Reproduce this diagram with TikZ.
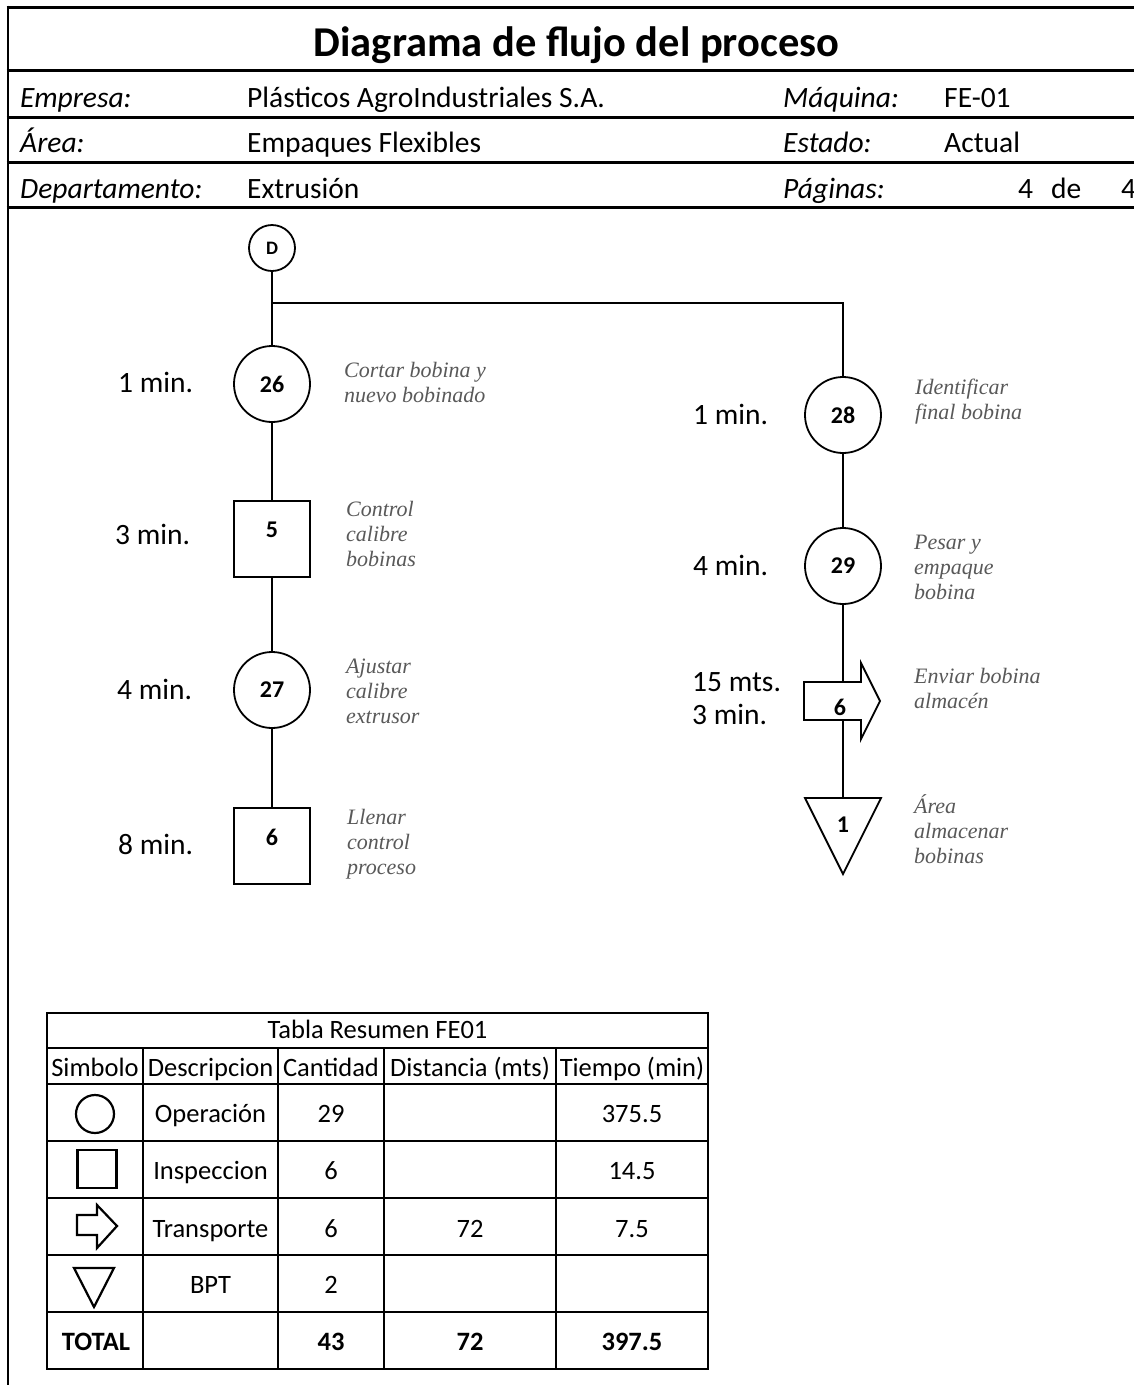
\documentclass[tikz,border=0pt]{standalone}
\usepackage{fontspec}
\setmainfont{Carlito}
\newfontfamily\descfont{Liberation Serif}
\usetikzlibrary{calc}
\definecolor{desc}{HTML}{595959}
\newcommand\mystrut{\rule{0pt}{20pt}}
\begin{document}
\begin{tikzpicture}[x=1pt,y=-1pt,
  hline/.style={line width=3pt},
  flow/.style={line width=1.8pt},
  shp/.style={draw, line width=1.8pt, inner sep=0pt},
  opc/.style={shp, circle, minimum size=76pt, font=\fontsize{24}{28}\selectfont\bfseries},
  insp/.style={shp, rectangle, minimum size=76pt},
  ghost/.style={inner sep=0pt, outer sep=0pt},
  num/.style={font=\fontsize{24}{28}\selectfont\bfseries, inner sep=0pt},
  lbl/.style={font=\fontsize{29.5}{35}\selectfont, anchor=base west, inner sep=0pt},
  dsc/.style={font=\descfont\itshape\fontsize{22}{25}\selectfont, text=desc, anchor=north west, inner sep=0pt, align=left},
  hit/.style={font=\fontsize{29.5}{35}\selectfont\itshape, anchor=base west, inner sep=0pt},
  hv/.style={font=\fontsize{29.5}{35}\selectfont, anchor=base west, inner sep=0pt},
  tb/.style={font=\fontsize{26.5}{30}\selectfont, inner sep=0pt, anchor=base},
  tbb/.style={font=\fontsize{26.5}{30}\selectfont\bfseries, inner sep=0pt, anchor=base},
  tline/.style={line width=2pt},
  tsym/.style={draw, line width=2.2pt, inner sep=0pt},
]
\useasboundingbox (0,0) rectangle (1134,1385);
\fill[white] (0,0) rectangle (1134,1385);

% ---------- header ----------
\draw[line width=2.5pt] (8,5.5) -- (8,1385);
\draw[hline] (6.5,7) -- (1134,7);
\draw[hline] (6.5,70) -- (1134,70);
\draw[hline] (6.5,117) -- (1134,117);
\draw[hline] (6.5,162) -- (1134,162);
\draw[hline] (6.5,207) -- (1134,207);

\node[font=\fontsize{42.5}{50}\selectfont\bfseries, anchor=base, inner sep=0pt] (title) at (576.5,56) {Diagrama de flujo del proceso};

\node[hit] (lemp) at (20,107) {Empresa:};
\node[hv]  (vemp) at (247,107) {Plásticos AgroIndustriales S.A.};
\node[hit] (lmaq) at (783,107) {Máquina:};
\node[hv]  (vmaq) at (944,107) {FE-01};

\node[hit] (lare) at (20,152) {Área:};
\node[hv]  (vare) at (247,152) {Empaques Flexibles};
\node[hit] (lest) at (783,152) {Estado:};
\node[hv]  (vest) at (944,152) {Actual};

\node[hit] (ldep) at (20,198) {Departamento:};
\node[hv]  (vdep) at (247,198) {Extrusión};
\node[hit] (lpag) at (783,198) {Páginas:};
\node[hv]  (vpag1) at (1018,198) {4};
\node[hv]  (vpag2) at (1051,198) {de};
\node[hv]  (vpag3) at (1121,198) {4};

% ---------- left column ----------
\node[shp, circle, minimum size=46pt] (d) at (272,248) {\fontsize{19}{22}\selectfont\bfseries D};
\node[opc] (c26) at (272,384) {26};
\node[insp] (s5) at (272,539) {};
\node[num] (n5) at (272,530) {5};
\node[opc] (c27) at (272,690) {27};
\node[insp] (s6) at (272,846) {};
\node[num] (n6) at (272,837) {6};

\coordinate (br) at (272,303);
\draw[flow] (d.south) -- (c26.north);
\draw[flow] (c26.south) -- (s5.north);
\draw[flow] (s5.south) -- (c27.north);
\draw[flow] (c27.south) -- (s6.north);

\node[lbl] (t26) at (118,392) {1 min.};
\node[lbl] (t5)  at (115,544) {3 min.};
\node[lbl] (t27) at (117,699) {4 min.};
\node[lbl] (t6l) at (118,854) {8 min.};

\node[dsc] (d26) at (344,357) {\mystrut Cortar bobina y\\nuevo bobinado};
\node[dsc] (d5)  at (346,496) {\mystrut Control\\calibre\\bobinas};
\node[dsc] (d27) at (346,653) {\mystrut Ajustar\\calibre\\extrusor};
\node[dsc] (d6)  at (347,804) {\mystrut Llenar\\control\\proceso};

% ---------- right column ----------
\node[opc] (c28) at (843,415) {28};
\node[opc] (c29) at (843,566) {29};
\node[ghost, minimum width=57pt, minimum height=38pt] (tr6) at (832.5,701) {};
\draw[shp] (tr6.north west) -- (tr6.north east) -- (861,663) -- (880,701) -- (861,739) -- (tr6.south east) -- (tr6.south west) -- cycle;
\node[num] (ntr6) at (840,707) {6};
\node[ghost, minimum width=76pt, minimum height=76pt] (b1) at (843,836) {};
\draw[shp] (b1.north west) -- (b1.north east) -- (b1.south) -- cycle;
\node[num] (nb1) at (843,825) {1};

\draw[flow] (br) -| (c28.north);
\draw[flow] (c28.south) -- (c29.north);
\draw[flow] (c29.south) -- (c29.south |- tr6.north);
\draw[flow] (b1.north |- tr6.south) -- (b1.north);

\node[lbl] (t28) at (693,424) {1 min.};
\node[lbl] (t29) at (693,575) {4 min.};
\node[lbl] (ttr1) at (692,691) {15 mts.};
\node[lbl] (ttr2) at (692,724) {3 min.};

\node[dsc] (d28) at (915,374) {\mystrut Identificar\\final bobina};
\node[dsc] (d29) at (914,529) {\mystrut Pesar y\\empaque\\bobina};
\node[dsc] (dtr) at (914,663) {\mystrut Enviar bobina\\almacén};
\node[dsc] (db1) at (914,793) {\mystrut Área\\almacenar\\bobinas};

% ---------- summary table ----------
\foreach \yy in {1048,1084,1141,1198,1255,1312}
  \draw[tline] (47,\yy) -- (708,\yy);
\foreach \xx in {143,278,384,556}
  \draw[tline] (\xx,1048) -- (\xx,1369);
\draw[line width=2.5pt] (47,1013) rectangle (708,1369);

\node[tb] (ttl) at (377.5,1038) {Tabla Resumen FE01};
\node[tb] (h1) at (95,1076) {Simbolo};
\node[tb] (h2) at (210.5,1076) {Descripcion};
\node[tb] (h3) at (331,1076) {Cantidad};
\node[tb] (h4) at (470,1076) {Distancia (mts)};
\node[tb] (h5) at (632,1076) {Tiempo (min)};

\node[tsym, circle, minimum size=38pt] (sy1) at (95,1114) {};
\node[tb] (r1a) at (210.5,1122) {Operación};
\node[tb] (r1b) at (331,1122) {29};
\node[tb] (r1c) at (632,1122) {375.5};

\node[tsym, rectangle, minimum width=39pt, minimum height=38pt] (sy2) at (97,1169) {};
\node[tb] (r2a) at (210.5,1179) {Inspeccion};
\node[tb] (r2b) at (331,1179) {6};
\node[tb] (r2c) at (632,1179) {14.5};

\node[ghost, minimum width=20pt, minimum height=20pt] (sy3) at (87,1225) {};
\draw[tsym] (sy3.north west) -- (sy3.north east) -- (97,1205) -- (117,1226) -- (97,1248) -- (sy3.south east) -- (sy3.south west) -- cycle;
\node[tb] (r3a) at (210.5,1237) {Transporte};
\node[tb] (r3b) at (331,1237) {6};
\node[tb] (r3c) at (470,1237) {72};
\node[tb] (r3d) at (632,1237) {7.5};

\node[ghost, minimum width=40pt, minimum height=39pt] (sy4) at (94,1287.5) {};
\draw[tsym] (sy4.north west) -- (sy4.north east) -- (sy4.south) -- cycle;
\node[tb] (r4a) at (210.5,1293) {BPT};
\node[tb] (r4b) at (331,1293) {2};

\node[tbb] (r5a) at (96,1350) {TOTAL};
\node[tbb] (r5b) at (331,1350) {43};
\node[tbb] (r5c) at (470,1350) {72};
\node[tbb] (r5d) at (632,1350) {397.5};
\end{tikzpicture}
\end{document}
